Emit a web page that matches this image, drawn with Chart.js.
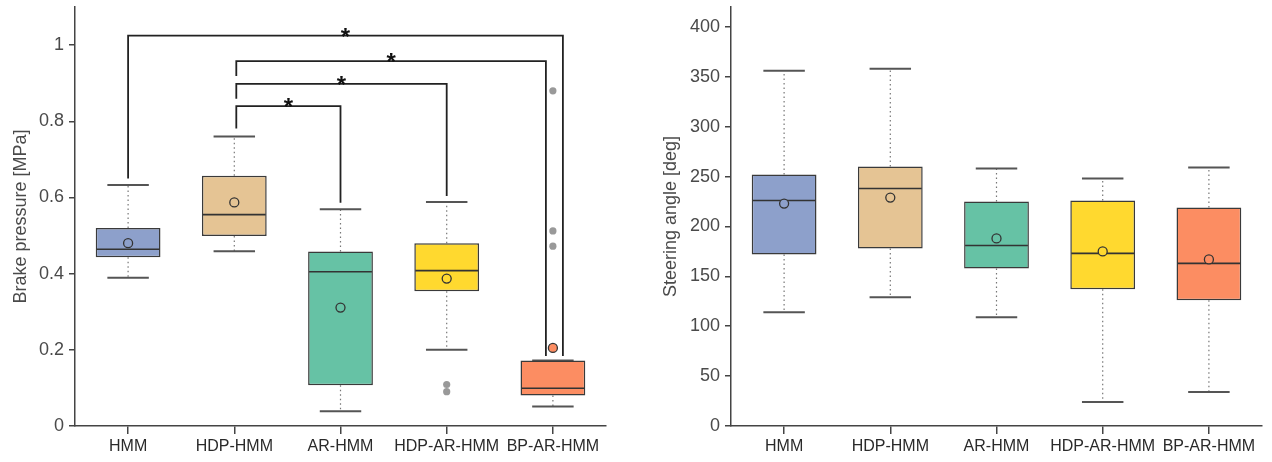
<!DOCTYPE html>
<html>
<head>
<meta charset="utf-8">
<script src="https://cdn.jsdelivr.net/npm/chart.js@4.4.1/dist/chart.umd.min.js"></script>
<style>
  body { margin: 0; background: #fff; }
  #wrap { position: relative; width: 1272px; height: 462px; }
  canvas { position: absolute; top: 0; }
  #brake-chart { left: 0; }
  #steer-chart { left: 636px; }
</style>
</head>
<body>
<div id="wrap">
  <canvas id="brake-chart" width="636" height="462"></canvas>
  <canvas id="steer-chart" width="636" height="462"></canvas>
</div>
<script>
var categories = ['HMM', 'HDP-HMM', 'AR-HMM', 'HDP-AR-HMM', 'BP-AR-HMM'];
var boxColors = ['#8DA0CB', '#E5C494', '#66C2A5', '#FFD92F', '#FC8D62'];

// brake pressure [MPa]
var brakeMin = [0.389, 0.459, 0.039, 0.200, 0.051];
var brakeQ1 = [0.443, 0.499, 0.107, 0.354, 0.080];
var brakeMedian = [0.464, 0.555, 0.405, 0.408, 0.099];
var brakeQ3 = [0.520, 0.657, 0.458, 0.480, 0.172];
var brakeMax = [0.633, 0.760, 0.569, 0.588, 0.172];
var brakeMean = [0.480, 0.587, 0.311, 0.387, 0.205];
var brakeOutliers = [[], [], [], [0.109, 0.090], [0.880, 0.512, 0.472]];
var brakeTicks = [0, 0.2, 0.4, 0.6, 0.8, 1];

// significance brackets: [from, to], bar height, left leg end, right leg end
var sigPairs = [[0, 4], [1, 4], [1, 3], [1, 2]];
var sigTop = [1.025, 0.958, 0.898, 0.840];
var sigLeftEnd = [0.650, 0.919, 0.859, 0.781];
var sigRightEnd = [0.184, 0.184, 0.604, 0.586];

// steering angle [deg]
var steerMin = [114, 129, 109, 24, 34];
var steerQ1 = [172, 178, 158, 137, 126];
var steerMedian = [226, 238, 181, 173, 163];
var steerQ3 = [252, 260, 225, 226, 219];
var steerMax = [356, 358, 258, 248, 259];
var steerMean = [223, 229, 188, 175, 167];
var steerTicks = [0, 50, 100, 150, 200, 250, 300, 350, 400];

Chart.defaults.font.family = '"Liberation Sans", Arial, sans-serif';
Chart.defaults.animation = false;

function boxPlugin(st) {
    return {
        id: 'boxExtras',
        beforeDatasetsDraw: function (chart) {
            var ctx = chart.ctx, y = chart.scales.y;
            var bars = chart.getDatasetMeta(0).data;
            ctx.save();
            bars.forEach(function (bar, i) {
                var cx = bar.x, half = bar.width * 0.32;
                ctx.strokeStyle = '#777';
                ctx.lineWidth = 1.2;
                ctx.setLineDash([1.5, 3]);
                ctx.beginPath();
                ctx.moveTo(cx, y.getPixelForValue(st.q3[i]));
                ctx.lineTo(cx, y.getPixelForValue(st.max[i]));
                ctx.moveTo(cx, y.getPixelForValue(st.q1[i]));
                ctx.lineTo(cx, y.getPixelForValue(st.min[i]));
                ctx.stroke();
                ctx.setLineDash([]);
                ctx.strokeStyle = '#555';
                ctx.lineWidth = 2;
                ctx.beginPath();
                [st.max[i], st.min[i]].forEach(function (v) {
                    var py = y.getPixelForValue(v);
                    ctx.moveTo(cx - half, py);
                    ctx.lineTo(cx + half, py);
                });
                ctx.stroke();
            });
            ctx.restore();
        },
        afterDatasetsDraw: function (chart) {
            var ctx = chart.ctx, y = chart.scales.y;
            var bars = chart.getDatasetMeta(0).data;
            ctx.save();
            bars.forEach(function (bar, i) {
                var cx = bar.x, hw = bar.width / 2;
                var my = y.getPixelForValue(st.median[i]);
                ctx.strokeStyle = '#333';
                ctx.lineWidth = 1.6;
                ctx.beginPath();
                ctx.moveTo(cx - hw + 1, my);
                ctx.lineTo(cx + hw - 1, my);
                ctx.stroke();

                (st.outliers ? st.outliers[i] : []).forEach(function (v) {
                    ctx.fillStyle = '#999';
                    ctx.beginPath();
                    ctx.arc(cx, y.getPixelForValue(v), 3.6, 0, Math.PI * 2);
                    ctx.fill();
                });

                ctx.fillStyle = boxColors[i];
                ctx.strokeStyle = '#333';
                ctx.lineWidth = 1.3;
                ctx.beginPath();
                ctx.arc(cx, y.getPixelForValue(st.mean[i]), 4.5, 0, Math.PI * 2);
                ctx.fill();
                ctx.stroke();
            });

            if (st.pairs) {
                var leftShift = [0, 2, 2, 2];
                var rightShift = [10, -7, 0, 0];
                ctx.strokeStyle = '#222';
                ctx.lineWidth = 1.8;
                ctx.fillStyle = '#111';
                ctx.font = 'bold 24px "Liberation Sans", Arial, sans-serif';
                ctx.textAlign = 'center';
                ctx.textBaseline = 'alphabetic';
                st.pairs.forEach(function (p, k) {
                    var x1 = bars[p[0]].x + leftShift[k];
                    var x2 = bars[p[1]].x + rightShift[k];
                    var ty = y.getPixelForValue(st.top[k]);
                    ctx.beginPath();
                    ctx.moveTo(x1, y.getPixelForValue(st.leftEnd[k]));
                    ctx.lineTo(x1, ty);
                    ctx.lineTo(x2, ty);
                    ctx.lineTo(x2, y.getPixelForValue(st.rightEnd[k]));
                    ctx.stroke();
                    ctx.fillText('*', (x1 + x2) / 2, ty + 9);
                });
            }
            ctx.restore();
        }
    };
}

function makeChart(canvasId, q1, q3, yMax, tickValues, title, axisWidth, titlePad, rightPad, plugin) {
    var ctx = document.querySelector(canvasId).getContext('2d');
    return new Chart(ctx, {
        type: 'bar',
        data: {
            labels: categories,
            datasets: [{
                data: q1.map(function (v, i) { return [v, q3[i]]; }),
                backgroundColor: boxColors,
                borderColor: '#3a3a3a',
                borderWidth: 1.5,
                borderSkipped: false,
                categoryPercentage: 1,
                barPercentage: 0.61
            }]
        },
        options: {
            responsive: false,
            layout: { padding: { left: 0, top: 7, right: rightPad, bottom: 0 } },
            plugins: { legend: { display: false }, tooltip: { enabled: false } },
            scales: {
                x: {
                    grid: { display: true, drawOnChartArea: false, offset: false, tickLength: 8, color: '#444', lineWidth: 1.5 },
                    border: { display: true, color: '#444', width: 1.5 },
                    ticks: { color: '#2a2a2a', font: { size: 16 }, padding: 3, maxRotation: 0, autoSkip: false },
                    afterFit: function (s) { s.height = 36; s.paddingLeft = 0; s.paddingRight = 0; }
                },
                y: {
                    min: 0,
                    max: yMax,
                    grid: { display: true, drawOnChartArea: false, tickLength: 6, color: '#444', lineWidth: 1.5 },
                    border: { display: true, color: '#444', width: 1.5 },
                    ticks: {
                        color: '#4a4a4a', font: { size: 18 }, padding: 5,
                        callback: function (v) { return String(v); }
                    },
                    afterBuildTicks: function (s) {
                        s.ticks = tickValues.map(function (v) { return { value: v }; });
                    },
                    afterFit: function (s) { s.width = axisWidth; s.paddingTop = 0; s.paddingBottom = 0; },
                    title: { display: true, text: title, color: '#4a4a4a', font: { size: 18 }, padding: { top: titlePad, bottom: 0 } }
                }
            }
        },
        plugins: [plugin]
    });
}

var brakeChart = makeChart('#brake-chart', brakeQ1, brakeQ3, 1.1, brakeTicks, 'Brake pressure [MPa]', 75, 10, 30,
    boxPlugin({ min: brakeMin, q1: brakeQ1, median: brakeMedian, q3: brakeQ3, max: brakeMax, mean: brakeMean,
        outliers: brakeOutliers, pairs: sigPairs, top: sigTop, leftEnd: sigLeftEnd, rightEnd: sigRightEnd }));

var steerChart = makeChart('#steer-chart', steerQ1, steerQ3, 420, steerTicks, 'Steering angle [deg]', 95, 24, 10,
    boxPlugin({ min: steerMin, q1: steerQ1, median: steerMedian, q3: steerQ3, max: steerMax, mean: steerMean }));
</script>
</body>
</html>
